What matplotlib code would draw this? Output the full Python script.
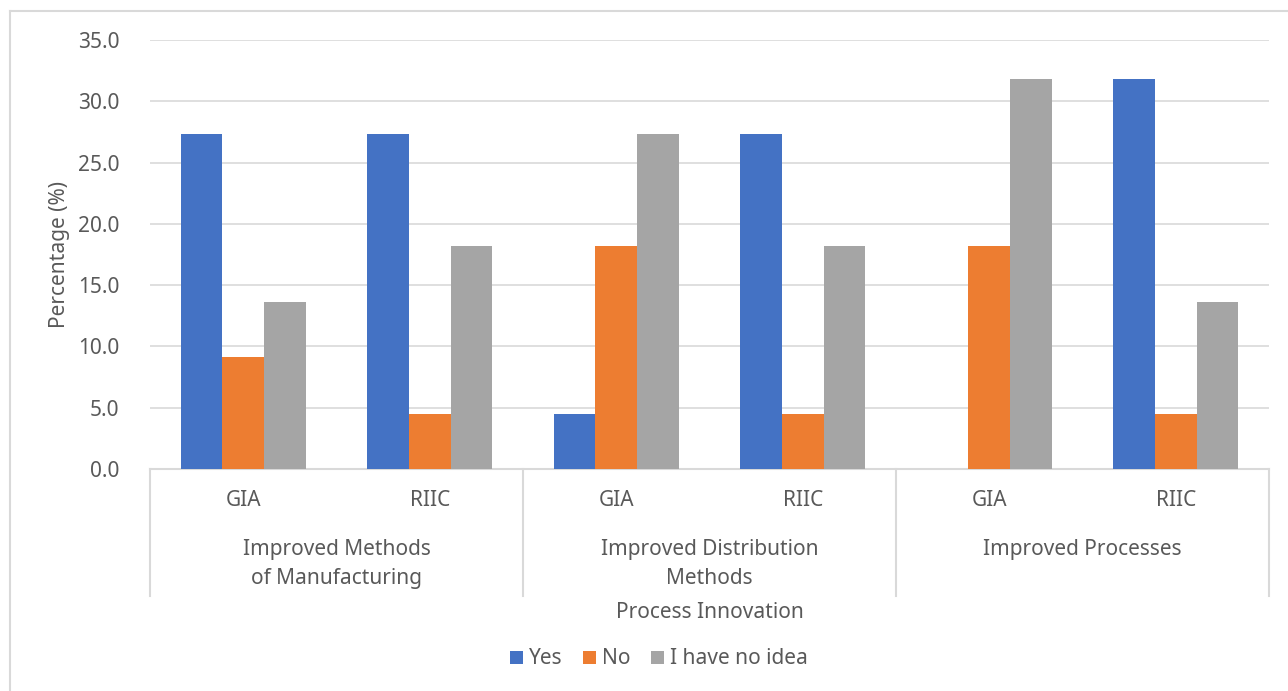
import numpy as np
import matplotlib
matplotlib.use("Agg")
import matplotlib.pyplot as plt
from matplotlib.lines import Line2D
from matplotlib.patches import Patch

# --- data ---
groups = ["Improved Methods\nof Manufacturing", "Improved Distribution\nMethods", "Improved Processes"]
subcats = ["GIA", "RIIC", "GIA", "RIIC", "GIA", "RIIC"]
series_names = ["Yes", "No", "I have no idea"]
yes = [27.3, 27.3, 4.5, 27.3, 0.0, 31.8]
no = [9.1, 4.5, 18.2, 4.5, 18.2, 4.5]
no_idea = [13.6, 18.2, 27.3, 18.2, 31.8, 13.6]
colors = ["#4472C4", "#ED7D31", "#A5A5A5"]

TXT = "#595959"
GRID = "#D9D9D9"
FS = 15
plt.rcParams["font.family"] = ["Noto Sans", "DejaVu Sans"]

W, H = 1288, 691
fig = plt.figure(figsize=(W / 100, H / 100), dpi=100)
# chart area border (cut off at right/bottom like the screenshot)
fig.add_artist(Line2D([10 / W, 10 / W], [0, 1 - 11 / H], color=GRID, lw=1.5))
fig.add_artist(Line2D([10 / W, 1], [1 - 11 / H, 1 - 11 / H], color=GRID, lw=1.5))

ax_l, ax_r, ax_t, ax_b = 150, 1269, 40, 469
ax = fig.add_axes([ax_l / W, 1 - ax_b / H, (ax_r - ax_l) / W, (ax_b - ax_t) / H])

x = np.arange(len(subcats))
bw = 0.223
for i, (vals, c, name) in enumerate(zip([yes, no, no_idea], colors, series_names)):
    ax.bar(x + (i - 1) * bw, vals, width=bw, color=c, label=name, zorder=3)

ax.set_xlim(-0.5, len(subcats) - 0.5)
ax.set_ylim(0, 35)
ax.set_yticks(np.arange(0, 35.1, 5))
ax.set_yticklabels([f"{v:.1f}" for v in np.arange(0, 35.1, 5)], color=TXT, fontsize=FS)
ax.tick_params(axis="y", length=0, pad=22)
ax.set_xticks([])
ax.grid(axis="y", color=GRID, lw=1.2, zorder=0)
for s in ["top", "right", "left"]:
    ax.spines[s].set_visible(False)
ax.spines["bottom"].set_color(GRID)
ax.spines["bottom"].set_linewidth(1.5)
ax.set_ylabel("Percentage (%)", color=TXT, fontsize=FS, labelpad=6)

# multi-level category axis
ph = ax_b - ax_t
def ay(py):
    return -(py - ax_b) / ph

trans = ax.get_xaxis_transform()
for b in [-0.5, 1.5, 3.5, 5.5]:
    ax.plot([b, b], [0, ay(596)], color=GRID, lw=1.5, transform=trans, clip_on=False)
for xi, lab in zip(x, subcats):
    ax.text(xi, ay(501), lab, ha="center", va="center", color=TXT, fontsize=FS, transform=trans)
for gi, g in enumerate(groups):
    ax.text(gi * 2 + 0.5, ay(539), g, ha="center", va="top", color=TXT, fontsize=FS,
            linespacing=1.5, transform=trans)
ax.text(0.5, ay(612), "Process Innovation", ha="center", va="center", color=TXT, fontsize=FS,
        transform=ax.transAxes)

handles = [Patch(facecolor=c, label=n) for c, n in zip(colors, series_names)]
fig.legend(handles=handles, loc="center", bbox_to_anchor=(659 / W, 1 - 659 / H), ncol=3,
           frameon=False, fontsize=FS, labelcolor=TXT, handlelength=0.6, handleheight=0.6,
           handletextpad=0.3, columnspacing=1.0)

fig.savefig("out.png", dpi=100)
